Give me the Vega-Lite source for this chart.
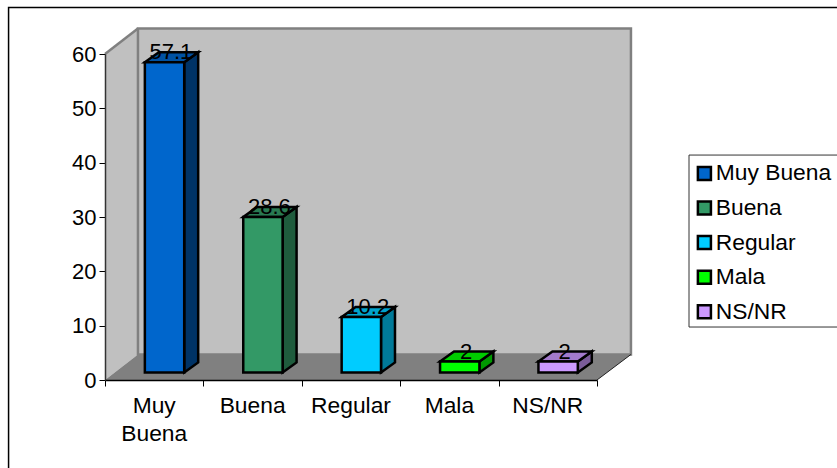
{
"$schema":"https://vega.github.io/schema/vega-lite/v6.json",
"width":492,"height":326,
"autosize":{"type":"none"},
"padding":{"left":105,"top":54,"right":240,"bottom":88},
"background":"white",
"config":{"view":{"stroke":null},"font":"Liberation Sans","text":{"font":"Liberation Sans"}},
"datasets":{
"valores":[
{"categoria":"Muy Buena","valor":57.1},
{"categoria":"Buena","valor":28.6},
{"categoria":"Regular","valor":10.2},
{"categoria":"Mala","valor":2},
{"categoria":"NS/NR","valor":2}],
"marco":[{"k":0},{"k":1}]
},
"encoding":{
"x":{"field":"px","type":"quantitative","title":null,"scale":{"domain":[0,5],"nice":false,"zero":false},
"axis":{"values":[0,1,2,3,4,5],"labels":false,"grid":false,"ticks":true,"tickSize":6,"tickColor":"black","domainColor":"black","tickWidth":1,"domainWidth":1.5,"title":null,"zindex":1}},
"y":{"field":"py","type":"quantitative","title":null,"scale":{"domain":[0,60],"nice":false,"zero":false},
"axis":{"values":[0,10,20,30,40,50,60],"grid":false,"tickSize":6,"tickColor":"black","domainColor":"#333333","tickWidth":1,"domainWidth":1.5,"labelFont":"Liberation Sans","labelFontSize":22,"labelColor":"black","labelPadding":3,"title":null,"zindex":1}}
},
"layer":[
{"data":{"name":"marco"},"transform":[{"filter":"datum.k==0"},{"calculate":"-0.98","as":"px"},{"calculate":"7.5","as":"px2"},{"calculate":"68.55","as":"py"},{"calculate":"-25","as":"py2"}],
"mark":{"type":"rect","fill":"white","stroke":"black","strokeWidth":1.5,"clip":false},
"encoding":{"x2":{"field":"px2"},"y2":{"field":"py2"}}},
{"data":{"name":"marco"},"transform":[{"filter":"datum.k==0"},{"calculate":"5.935","as":"px"},{"calculate":"7.6","as":"px2"},{"calculate":"41.4","as":"py"},{"calculate":"9.75","as":"py2"}],
"mark":{"type":"rect","fill":"white","stroke":"#333333","strokeWidth":1},
"encoding":{"x2":{"field":"px2"},"y2":{"field":"py2"}}},
{"data":{"name":"marco"},"transform":[{"calculate":"datum.k*0.335","as":"px"},{"calculate":"datum.k*4.7","as":"py"},{"calculate":"60+datum.k*4.7","as":"py2"}],
"mark":{"type":"area","fill":"#c0c0c0","opacity":1},
"encoding":{"y2":{"field":"py2"}}},
{"data":{"name":"marco"},"transform":[{"calculate":"60+datum.k*4.7","as":"py"},{"calculate":"datum.k*0.335","as":"px"}],
"mark":{"type":"line","color":"#808080","strokeWidth":2.5}},
{"data":{"name":"marco"},"transform":[{"filter":"datum.k==0"},{"calculate":"0.335","as":"px"},{"calculate":"5.345","as":"px2"},{"calculate":"4.7","as":"py"},{"calculate":"64.7","as":"py2"}],
"mark":{"type":"rect","fill":"#c0c0c0","stroke":"#808080","strokeWidth":2.5},
"encoding":{"x2":{"field":"px2"},"y2":{"field":"py2"}}},
{"data":{"name":"marco"},"transform":[{"calculate":"datum.k*0.335","as":"px"},{"calculate":"5+datum.k*0.345","as":"px2"},{"calculate":"datum.k*4.7","as":"py"}],
"mark":{"type":"area","orient":"horizontal","fill":"#808080","opacity":1},
"encoding":{"x2":{"field":"px2"}}},
{"data":{"name":"marco"},"transform":[{"calculate":"5+datum.k*0.345","as":"px"},{"calculate":"datum.k*4.7","as":"py"}],
"mark":{"type":"line","color":"#222222","strokeWidth":1}},
{"data":{"name":"valores"},"transform":[{"window":[{"op":"row_number","as":"n"}]},{"calculate":"datum.n-1+0.405","as":"px0"},{"calculate":"0","as":"cerca"},{"calculate":"1","as":"lejos"},{"fold":["cerca","lejos"],"as":["cara","k"]},{"calculate":"datum.px0+0.4+datum.k*0.142","as":"px"},{"calculate":"1.4+datum.k*1.84","as":"py"},{"calculate":"datum.py+datum.valor","as":"py2"}],
"mark":{"type":"area","stroke":"black","strokeWidth":2.5,"opacity":1,"strokeJoin":"miter"},
"encoding":{"y2":{"field":"py2"},"color":{"field":"categoria","type":"nominal","legend":null,"scale":{"domain":["Muy Buena","Buena","Regular","Mala","NS/NR"],"range":["#003366","#1f5c3d","#007a99","#009900","#7a5c99"]}}}},
{"data":{"name":"valores"},"transform":[{"window":[{"op":"row_number","as":"n"}]},{"calculate":"datum.n-1+0.405","as":"px0"},{"calculate":"0","as":"cerca"},{"calculate":"1","as":"lejos"},{"fold":["cerca","lejos"],"as":["cara","k"]},{"calculate":"datum.px0+datum.k*0.142","as":"px"},{"calculate":"datum.px+0.4","as":"px2"},{"calculate":"1.4+datum.valor+datum.k*1.84","as":"py"}],
"mark":{"type":"area","orient":"horizontal","stroke":"black","strokeWidth":2.5,"opacity":1,"strokeJoin":"miter"},
"encoding":{"x2":{"field":"px2"},"color":{"field":"categoria","type":"nominal","legend":null,"scale":{"domain":["Muy Buena","Buena","Regular","Mala","NS/NR"],"range":["#0052a3","#297a52","#00a3cc","#00cc00","#a37acc"]}}}},
{"data":{"name":"valores"},"transform":[{"window":[{"op":"row_number","as":"n"}]},{"calculate":"datum.n-1+0.405","as":"px"},{"calculate":"datum.px+0.4","as":"px2"},{"calculate":"1.4","as":"py"},{"calculate":"1.4+datum.valor","as":"py2"}],
"mark":{"type":"rect","stroke":"black","strokeWidth":2.5,"strokeJoin":"miter"},
"encoding":{"x2":{"field":"px2"},"y2":{"field":"py2"},"color":{"field":"categoria","type":"nominal","scale":{"domain":["Muy Buena","Buena","Regular","Mala","NS/NR"],"range":["#0066cc","#339966","#00ccff","#00ff00","#cc99ff"]},
"legend":{"title":null,"orient":"none","legendX":588,"legendY":108,"symbolType":"square","symbolSize":170,"symbolStrokeColor":"black","symbolStrokeWidth":2.5,"labelFont":"Liberation Sans","labelFontSize":22.8,"labelColor":"black","labelLimit":200,"labelOffset":0,"rowPadding":9.6,"padding":0}}}},
{"data":{"name":"valores"},"transform":[{"window":[{"op":"row_number","as":"n"}]},{"calculate":"datum.n-1+0.67","as":"px"},{"calculate":"datum.valor+1.9","as":"py"}],
"mark":{"type":"text","font":"Liberation Sans","fontSize":22,"color":"black","baseline":"alphabetic","align":"center"},
"encoding":{"text":{"field":"valor","type":"quantitative"}}},
{"data":{"name":"valores"},"transform":[{"window":[{"op":"row_number","as":"n"}]},{"calculate":"datum.n-1+0.5","as":"px"},{"calculate":"-2.8","as":"py"}],
"mark":{"type":"text","font":"Liberation Sans","fontSize":22.8,"color":"black","baseline":"top","align":"center","lineBreak":" ","lineHeight":28,"dy":0},
"encoding":{"text":{"field":"categoria","type":"nominal"}}}
],
"resolve":{"scale":{"color":"independent"}}
}
